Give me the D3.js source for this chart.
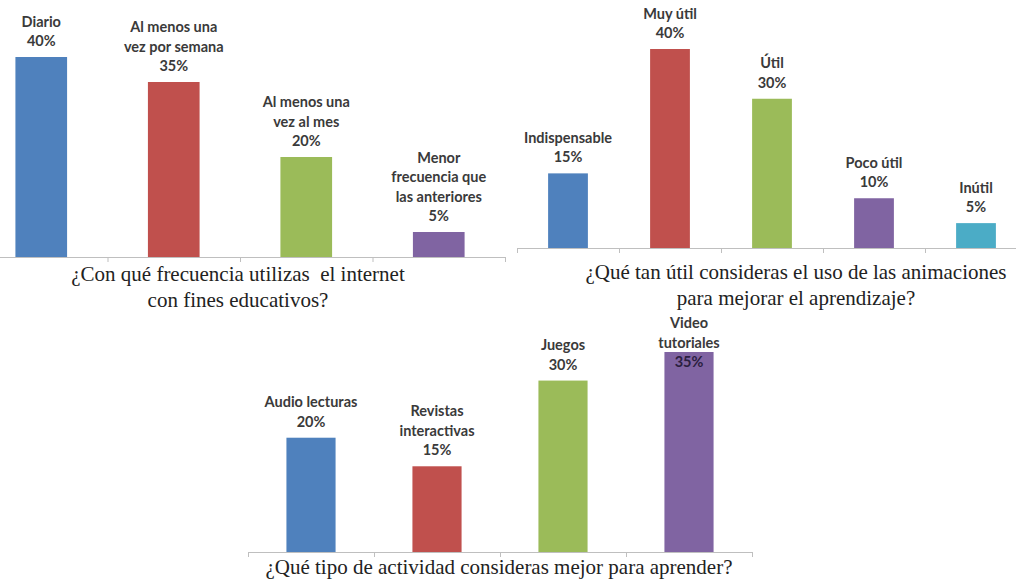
<!DOCTYPE html>
<html>
<head>
<meta charset="utf-8">
<script src="https://cdn.jsdelivr.net/npm/d3@7"></script>
<style>
  body { margin: 0; background: #fff; }
  svg { display: block; }
  .axis path, .axis line { stroke: #bfbfbf; }
  .bar-label { font-family: Lato, "Liberation Sans", sans-serif; font-weight: 700; font-size: 14.5px; fill: #3a3a3a; }
  .chart-title { font-family: "Liberation Serif", "Times New Roman", serif; font-size: 21px; fill: #222; }
</style>
</head>
<body>
<div id="chart"></div>
<script>
// --- data ---
const freqCategories = [["Diario"], ["Al menos una", "vez por semana"], ["Al menos una", "vez al mes"], ["Menor", "frecuencia que", "las anteriores"]];
const freqValues = [40, 35, 20, 5];
const freqTitle = ["¿Con qué frecuencia utilizas\u00a0 el internet", "con fines educativos?"];

const utilCategories = [["Indispensable"], ["Muy útil"], ["Útil"], ["Poco útil"], ["Inútil"]];
const utilValues = [15, 40, 30, 10, 5];
const utilTitle = ["¿Qué tan útil consideras el uso de las animaciones", "para mejorar el aprendizaje?"];

const actCategories = [["Audio lecturas"], ["Revistas", "interactivas"], ["Juegos"], ["Video", "tutoriales"]];
const actValues = [20, 15, 30, 35];
const actTitle = ["¿Qué tipo de actividad consideras mejor para aprender?"];

const palette = ["#4f81bd", "#c0504d", "#9bbb59", "#8064a2", "#4bacc6"];

const W = 1016, H = 583;
const svg = d3.select("#chart").append("svg")
    .attr("width", W)
    .attr("height", H);

const lineH = 19.5;

function drawChart(opts) {
    const { cats, values, colors, x0, x1, base, barH, title, titleX, titleY, minTop } = opts;
    const g = svg.append("g");

    const xScale = d3.scaleBand()
        .domain(d3.range(values.length))
        .range([x0, x1])
        .paddingInner(0.61)
        .paddingOuter(0.305);
    const yScale = d3.scaleLinear()
        .domain([0, d3.max(values)])
        .range([base, base - barH]);

    // category boundary ticks
    const edge = d3.scaleLinear().domain([0, values.length]).range([x0, x1]);
    const axisCall = d3.axisBottom(edge)
        .tickValues(d3.range(values.length + 1))
        .tickFormat("")
        .tickSizeInner(5)
        .tickSizeOuter(0);

    g.selectAll("rect")
        .data(values)
        .join("rect")
        .attr("x", (d, i) => xScale(i))
        .attr("y", d => yScale(d))
        .attr("width", xScale.bandwidth())
        .attr("height", d => yScale(0) - yScale(d))
        .attr("fill", (d, i) => colors[i]);

    g.append("g")
        .attr("class", "axis")
        .attr("transform", `translate(0, ${base})`)
        .call(axisCall);

    // data labels: category lines + value
    values.forEach((v, i) => {
        const lines = cats[i].concat([v + "%"]);
        const top = yScale(v);
        let firstBase = top - 11 - (lines.length - 1) * lineH;
        if (minTop != null && firstBase < minTop) firstBase = minTop;
        const cx = xScale(i) + xScale.bandwidth() / 2;
        const t = g.append("text")
            .attr("class", "bar-label")
            .attr("text-anchor", "middle");
        lines.forEach((ln, k) => {
            const y = firstBase + k * lineH;
            t.append("tspan")
                .attr("x", cx)
                .attr("y", y)
                .style("fill", y - 4 > top ? "#2b2040" : null)
                .text(ln);
        });
    });

    const tt = g.append("text")
        .attr("class", "chart-title")
        .attr("text-anchor", "middle");
    title.forEach((ln, k) => {
        tt.append("tspan")
            .attr("x", titleX)
            .attr("y", titleY + k * 26)
            .text(ln);
    });
}

drawChart({
    cats: freqCategories, values: freqValues, colors: palette,
    x0: -25, x1: 505, base: 257, barH: 200,
    title: freqTitle, titleX: 238, titleY: 281
});

drawChart({
    cats: utilCategories, values: utilValues, colors: palette,
    x0: 517, x1: 1027, base: 248, barH: 199,
    title: utilTitle, titleX: 796, titleY: 279
});

drawChart({
    cats: actCategories, values: actValues, colors: palette,
    x0: 248, x1: 752, base: 552, barH: 200,
    title: actTitle, titleX: 499, titleY: 574, minTop: 328
});
</script>
</body>
</html>
